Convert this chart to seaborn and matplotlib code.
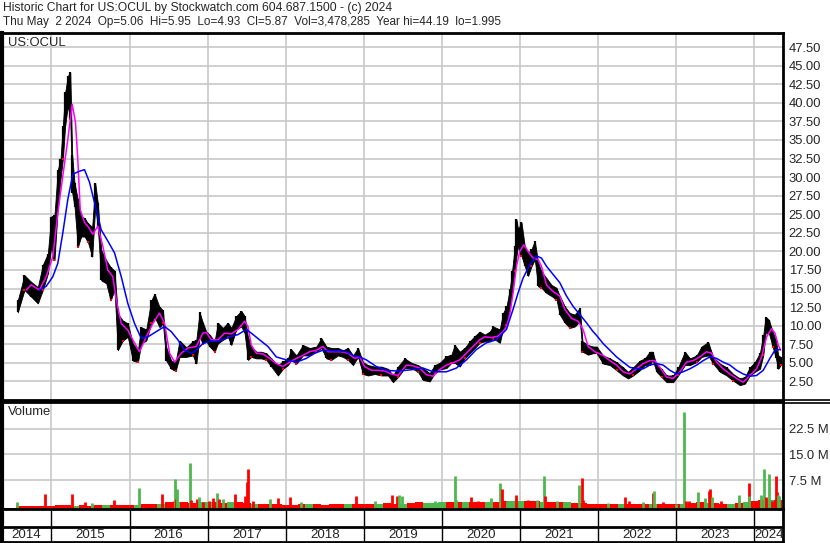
import numpy as np
import matplotlib
matplotlib.use("Agg")
import matplotlib.pyplot as plt
from matplotlib.lines import Line2D
import seaborn as sns

# === PRICE BAND (decimal year, upper / lower edge of the daily bars) ===
px_date = [2014.568, 2014.654, 2014.740, 2014.825, 2014.889, 2014.953, 2014.996, 2015.038,
           2015.081, 2015.115, 2015.145, 2015.175, 2015.209, 2015.240, 2015.265, 2015.295,
           2015.337, 2015.380, 2015.423, 2015.465, 2015.521, 2015.560, 2015.593, 2015.637,
           2015.701, 2015.756, 2015.807, 2015.849, 2015.913, 2015.977, 2016.041, 2016.106,
           2016.149, 2016.213, 2016.277, 2016.319, 2016.383, 2016.426, 2016.469, 2016.533,
           2016.588, 2016.640, 2016.726, 2016.810, 2016.854, 2016.896, 2016.938, 2016.982,
           2017.024, 2017.088, 2017.130, 2017.194, 2017.258, 2017.302, 2017.366, 2017.430,
           2017.472, 2017.515, 2017.558, 2017.622, 2017.686, 2017.750, 2017.814, 2017.899,
           2017.963, 2018.027, 2018.070, 2018.135, 2018.219, 2018.305, 2018.391, 2018.455,
           2018.519, 2018.583, 2018.668, 2018.732, 2018.796, 2018.860, 2018.924, 2018.988,
           2019.052, 2019.138, 2019.223, 2019.308, 2019.372, 2019.436, 2019.522, 2019.608,
           2019.692, 2019.756, 2019.842, 2019.906, 2019.970, 2020.056, 2020.120, 2020.162,
           2020.226, 2020.290, 2020.354, 2020.418, 2020.482, 2020.547, 2020.611, 2020.653,
           2020.739, 2020.781, 2020.825, 2020.867, 2020.896, 2020.931, 2020.953, 2020.973,
           2021.017, 2021.059, 2021.101, 2021.145, 2021.187, 2021.230, 2021.273, 2021.337,
           2021.401, 2021.465, 2021.507, 2021.572, 2021.636, 2021.700, 2021.764, 2021.798,
           2021.870, 2021.934, 2021.978, 2022.062, 2022.148, 2022.234, 2022.318, 2022.382,
           2022.446, 2022.532, 2022.596, 2022.660, 2022.695, 2022.746, 2022.810, 2022.874,
           2022.959, 2023.023, 2023.109, 2023.173, 2023.259, 2023.323, 2023.407, 2023.471,
           2023.557, 2023.643, 2023.728, 2023.813, 2023.877, 2023.941, 2024.005, 2024.069,
           2024.112, 2024.142, 2024.184, 2024.232, 2024.274, 2024.304, 2024.335]
px_high = [13.4, 16.8, 15.9, 15.2, 18.2, 19.7, 24.7, 24.9,
           31.0, 32.4, 36.9, 41.4, 43.6, 44.1, 33.0, 29.2,
           27.0, 24.7, 24.5, 23.8, 23.3, 29.2, 26.5, 20.2,
           18.8, 17.9, 17.4, 11.6, 10.7, 10.3, 7.6, 6.7,
           9.8, 9.5, 13.4, 14.3, 12.5, 12.1, 7.1, 5.3,
           5.1, 8.0, 7.1, 7.9, 8.1, 11.8, 10.4, 9.2,
           8.8, 7.9, 10.4, 9.7, 10.4, 9.7, 11.3, 12.0,
           11.3, 8.5, 7.2, 6.5, 6.5, 6.3, 5.6, 4.7,
           5.2, 5.6, 6.8, 6.0, 7.4, 7.0, 7.2, 8.3,
           7.2, 7.0, 7.0, 6.7, 7.0, 6.0, 7.0, 5.1,
           4.7, 4.5, 4.5, 4.2, 3.3, 4.5, 5.6, 5.0,
           4.7, 4.3, 3.6, 4.7, 5.0, 5.9, 6.1, 7.4,
           6.5, 7.0, 7.9, 8.6, 9.2, 8.8, 9.2, 9.9,
           9.5, 11.7, 12.6, 14.9, 17.3, 20.7, 24.3, 23.0,
           23.9, 20.7, 19.8, 20.3, 21.4, 18.5, 17.3, 16.4,
           15.5, 15.1, 14.0, 12.6, 11.7, 11.5, 12.4, 7.9,
           7.4, 7.2, 7.2, 6.0, 5.6, 5.1, 4.4, 3.8,
           4.4, 5.3, 5.6, 6.5, 6.5, 4.7, 4.2, 3.3,
           3.3, 4.4, 6.5, 5.6, 6.0, 7.2, 7.8, 5.8,
           4.9, 4.4, 3.5, 2.9, 3.1, 4.4, 5.1, 6.3,
           8.7, 11.2, 10.8, 9.2, 8.1, 6.0, 5.8]
px_low = [11.8, 14.8, 13.9, 13.0, 14.8, 17.0, 20.6, 18.8,
          26.0, 29.7, 32.4, 36.9, 39.6, 37.8, 27.9, 26.0,
          20.6, 22.0, 22.0, 21.3, 19.3, 26.0, 23.3, 16.1,
          15.7, 13.4, 14.8, 6.7, 8.0, 8.5, 5.3, 5.1,
          7.6, 8.0, 10.3, 11.2, 9.8, 10.3, 5.3, 4.2,
          3.9, 5.8, 5.8, 6.0, 4.9, 8.5, 7.6, 7.9,
          7.2, 6.5, 7.6, 8.1, 8.5, 7.4, 9.5, 9.9,
          9.0, 5.4, 5.8, 5.6, 5.6, 5.4, 4.5, 3.3,
          4.2, 4.7, 5.4, 4.9, 6.0, 6.0, 6.5, 7.0,
          5.6, 5.4, 6.0, 5.8, 5.4, 4.7, 5.8, 3.5,
          3.3, 3.5, 3.3, 3.3, 2.4, 3.1, 4.3, 4.3,
          3.8, 2.7, 2.5, 3.6, 4.1, 4.3, 5.0, 5.0,
          4.5, 5.6, 6.3, 7.0, 7.7, 7.9, 7.9, 8.3,
          7.7, 9.5, 10.1, 12.6, 14.4, 17.3, 19.4, 20.7,
          19.4, 18.0, 16.7, 18.0, 18.9, 15.3, 15.1, 14.4,
          14.0, 13.5, 11.5, 10.4, 9.7, 9.9, 10.6, 6.5,
          6.1, 6.3, 6.3, 4.9, 4.7, 4.0, 3.3, 2.9,
          3.3, 4.0, 4.7, 4.7, 5.4, 3.8, 3.1, 2.4,
          2.4, 3.3, 4.7, 4.7, 5.1, 5.8, 6.0, 4.9,
          3.8, 3.3, 2.6, 2.0, 2.2, 3.3, 3.8, 4.2,
          6.0, 9.0, 9.0, 7.2, 5.6, 4.2, 4.7]

# === MOVING AVERAGES ===
ma_fast_date = [2014.676, 2014.740, 2014.846, 2014.932, 2015.017, 2015.081, 2015.145, 2015.209,
                2015.265, 2015.307, 2015.337, 2015.368, 2015.423, 2015.478, 2015.529, 2015.593,
                2015.657, 2015.721, 2015.785, 2015.829, 2015.893, 2015.977, 2016.041, 2016.127,
                2016.213, 2016.298, 2016.383, 2016.448, 2016.512, 2016.576, 2016.661, 2016.746,
                2016.854, 2016.938, 2016.982, 2017.046, 2017.130, 2017.216, 2017.302, 2017.387,
                2017.472, 2017.515, 2017.558, 2017.622, 2017.707, 2017.792, 2017.878, 2017.963,
                2018.049, 2018.135, 2018.219, 2018.305, 2018.391, 2018.476, 2018.540, 2018.625,
                2018.711, 2018.796, 2018.881, 2018.945, 2019.009, 2019.095, 2019.180, 2019.266,
                2019.351, 2019.436, 2019.544, 2019.628, 2019.714, 2019.800, 2019.885, 2019.970,
                2020.056, 2020.141, 2020.226, 2020.312, 2020.397, 2020.482, 2020.547, 2020.633,
                2020.717, 2020.781, 2020.825, 2020.867, 2020.909, 2020.953, 2020.995, 2021.046,
                2021.101, 2021.165, 2021.230, 2021.273, 2021.337, 2021.422, 2021.507, 2021.572,
                2021.657, 2021.742, 2021.806, 2021.870, 2021.956, 2022.062, 2022.148, 2022.234,
                2022.318, 2022.404, 2022.490, 2022.575, 2022.660, 2022.724, 2022.788, 2022.874,
                2022.959, 2023.045, 2023.130, 2023.215, 2023.301, 2023.386, 2023.450, 2023.514,
                2023.599, 2023.685, 2023.771, 2023.856, 2023.941, 2024.027, 2024.091, 2024.155,
                2024.219, 2024.262, 2024.304, 2024.335]
ma_fast = [14.8, 15.5, 14.8, 16.6, 19.3, 25.2, 30.2, 35.1,
           39.8, 37.4, 32.4, 25.6, 23.9, 23.2, 22.3, 23.4,
           20.7, 17.5, 16.6, 13.5, 10.3, 9.4, 8.1, 6.5,
           8.5, 10.3, 11.7, 10.3, 6.3, 5.1, 6.3, 7.0,
           7.2, 9.0, 9.1, 8.1, 8.1, 9.0, 8.9, 9.5,
           10.6, 9.9, 7.4, 6.3, 6.2, 5.6, 4.9, 4.5,
           5.1, 5.6, 6.0, 6.5, 6.7, 7.2, 6.5, 6.5,
           6.5, 6.3, 5.6, 5.8, 4.5, 4.0, 4.0, 3.9,
           3.5, 3.3, 4.7, 4.6, 4.3, 3.4, 3.2, 4.1,
           4.7, 5.0, 5.4, 6.3, 7.2, 8.1, 8.5, 8.4,
           8.6, 9.2, 9.9, 11.5, 14.4, 18.0, 20.0, 20.9,
           20.0, 19.1, 18.9, 18.0, 15.5, 14.6, 14.0, 12.2,
           11.0, 10.6, 9.5, 7.2, 6.5, 6.0, 5.3, 4.7,
           3.8, 3.5, 4.2, 4.9, 5.3, 5.3, 4.4, 3.1,
           2.9, 3.8, 5.1, 5.3, 5.8, 6.5, 6.3, 5.1,
           4.2, 3.5, 2.9, 2.4, 3.3, 4.2, 5.8, 8.5,
           9.6, 9.0, 7.4, 6.7]

ma_slow_date = [2014.846, 2014.932, 2015.017, 2015.081, 2015.145, 2015.209, 2015.273, 2015.359,
                2015.423, 2015.487, 2015.573, 2015.637, 2015.721, 2015.807, 2015.893, 2015.977,
                2016.063, 2016.149, 2016.234, 2016.341, 2016.448, 2016.533, 2016.618, 2016.704,
                2016.790, 2016.854, 2016.938, 2017.024, 2017.110, 2017.194, 2017.280, 2017.387,
                2017.494, 2017.558, 2017.664, 2017.771, 2017.878, 2018.007, 2018.135, 2018.263,
                2018.369, 2018.476, 2018.583, 2018.689, 2018.775, 2018.860, 2018.945, 2019.031,
                2019.159, 2019.288, 2019.416, 2019.544, 2019.628, 2019.756, 2019.885, 2020.056,
                2020.184, 2020.312, 2020.440, 2020.568, 2020.696, 2020.825, 2020.909, 2020.973,
                2021.037, 2021.123, 2021.209, 2021.273, 2021.337, 2021.422, 2021.507, 2021.593,
                2021.678, 2021.764, 2021.849, 2021.934, 2021.978, 2022.062, 2022.148, 2022.234,
                2022.318, 2022.404, 2022.490, 2022.575, 2022.660, 2022.746, 2022.831, 2022.917,
                2023.002, 2023.087, 2023.173, 2023.259, 2023.343, 2023.429, 2023.514, 2023.599,
                2023.685, 2023.771, 2023.856, 2023.941, 2024.027, 2024.112, 2024.197, 2024.262,
                2024.326]
ma_slow = [14.8, 15.3, 16.6, 18.4, 22.5, 27.0, 30.4, 30.8,
           31.0, 29.3, 25.6, 22.9, 21.4, 19.8, 16.6, 13.0,
           10.3, 8.3, 8.5, 9.2, 9.9, 9.2, 8.1, 6.7,
           6.3, 6.7, 7.6, 7.9, 7.9, 8.1, 8.5, 8.8,
           9.5, 9.0, 8.1, 7.2, 5.8, 5.4, 5.1, 5.6,
           6.3, 6.7, 6.6, 6.6, 6.5, 6.0, 5.8, 5.4,
           4.5, 4.0, 3.9, 4.0, 4.1, 4.3, 3.8, 3.8,
           4.3, 5.4, 6.8, 7.7, 8.1, 9.5, 12.2, 14.4,
           16.4, 18.2, 19.4, 19.1, 18.0, 16.9, 15.8, 14.0,
           12.6, 11.5, 10.4, 9.2, 8.7, 7.6, 6.7, 5.8,
           5.1, 4.4, 4.2, 4.2, 4.7, 4.9, 4.7, 4.0,
           3.5, 3.8, 4.2, 4.7, 5.3, 5.8, 5.6, 5.1,
           4.7, 4.0, 3.5, 3.2, 3.3, 4.0, 5.6, 6.7,
           6.8]

# === VOLUME (millions) ===
# background level, one value per tenth of a year from 2014.6
vol_base = [0.1, 0.1, 0.1, 0.1,
            0.1, 0.2, 0.2, 0.1, 0.2, 0.1, 0.3, 0.2, 0.3, 0.2,
            0.3, 0.2, 0.5, 0.5, 0.7, 1.0, 1.0, 1.2, 0.9, 1.0,
            1.0, 1.1, 0.9, 1.1, 1.2, 0.9, 0.6, 0.6, 0.5, 0.5,
            0.4, 0.4, 0.5, 0.6, 0.5, 0.4, 0.5, 0.5, 0.5, 0.6,
            0.5, 0.6, 0.5, 0.8, 0.7, 0.7, 0.9, 1.0, 0.9, 0.9,
            1.0, 1.1, 1.2, 1.0, 1.1, 1.1, 1.0, 1.2, 1.3, 1.4,
            1.4, 1.3, 1.3, 1.2, 1.1, 1.1, 1.0, 0.9, 0.8, 0.7,
            0.6, 0.6, 0.6, 0.5, 0.6, 0.6, 0.7, 0.6, 0.5, 0.5,
            0.6, 0.7, 0.8, 1.0, 0.9, 0.8, 0.7, 0.7, 0.9, 1.1,
            1.4, 1.6, 1.6, 1.6]
vol_base_col = ("rrrr" "rrrgrrrgrr" "rgrrgrgrrg" "grrgrrgrrr"
                "rrrgrrrrgr" "rrgrrgrrgg" "grrgrrgrrg" "grrgrrgrrr"
                "rrrgrrrgrr" "rgrrgrrgrg" "rrgr")
vol_base_date = np.round(np.arange(2014.6, 2024.35, 0.1), 2)

spike_date = [2014.561, 2014.919, 2015.265, 2015.423, 2015.521, 2015.798, 2016.123, 2016.418,
              2016.469, 2016.563, 2016.585, 2016.597, 2016.605, 2016.777, 2016.781, 2016.867,
              2016.883, 2016.938, 2017.011, 2017.062, 2017.114, 2017.139, 2017.199, 2017.340,
              2017.344, 2017.421, 2017.472, 2017.502, 2017.520, 2017.579, 2017.801, 2017.895,
              2018.058, 2018.199, 2018.903, 2019.138, 2019.364, 2019.423, 2019.449, 2019.493,
              2019.915, 2020.162, 2020.184, 2020.367, 2020.466, 2020.633, 2020.748, 2020.765,
              2020.833, 2020.893, 2020.944, 2021.101, 2021.222, 2021.302, 2021.324, 2021.478,
              2021.751, 2021.790, 2021.806, 2022.126, 2022.340, 2022.391, 2022.575, 2022.703,
              2022.716, 2022.831, 2022.994, 2023.092, 2023.122, 2023.160, 2023.271, 2023.365,
              2023.417, 2023.429, 2023.451, 2023.570, 2023.805, 2023.925, 2023.933, 2024.018,
              2024.078, 2024.116, 2024.146, 2024.180, 2024.219, 2024.270, 2024.283, 2024.296,
              2024.316]
spike_vol = [1.2, 3.4, 3.4, 1.2, 0.8, 1.8, 5.3, 3.4,
             0.7, 1.5, 7.9, 2.0, 4.9, 12.5, 1.7, 2.0,
             2.6, 1.2, 1.5, 2.3, 3.8, 2.1, 2.0, 1.1,
             3.4, 1.2, 2.9, 7.0, 10.7, 1.4, 2.0, 2.3,
             2.6, 1.2, 2.9, 1.4, 3.3, 2.9, 3.1, 2.8,
             1.4, 8.7, 1.7, 2.7, 1.4, 2.2, 6.6, 4.9,
             1.4, 1.4, 3.1, 1.8, 1.8, 8.7, 2.9, 1.4,
             6.0, 8.1, 1.7, 0.8, 2.6, 1.4, 1.0, 3.8,
             4.3, 1.0, 0.5, 27.3, 1.5, 1.5, 4.0, 2.2,
             4.3, 4.9, 2.6, 1.4, 3.1, 6.6, 2.8, 1.4,
             3.1, 10.7, 2.5, 9.2, 1.4, 8.7, 4.0, 3.1,
             2.9]
spike_col = ("grrrgrgr" "rrgrggrr" "grrrgrgg" "rrrrrrgr"
             "rgrgrrgg" "gggrrggr" "ggrrggrg" "grrgrrgr"
             "grggrrgg" "rrgrgrgr" "ggrgrrrg" "g")

# axis ranges and tick values
x_range = (2014.36, 2024.365)
year_lines = list(range(2015, 2025))
year_labels = [str(y) for y in range(2014, 2025)]
price_ticks = [2.5 * k for k in range(1, 20)]
vol_ticks = [7.5, 15.0, 22.5]
vol_floor = -0.9

header1 = "Historic Chart for US:OCUL by Stockwatch.com 604.687.1500 - (c) 2024"
header2 = "Thu May  2 2024  Op=5.06  Hi=5.95  Lo=4.93  Cl=5.87  Vol=3,478,285  Year hi=44.19  lo=1.995"

# === STYLE ===
sns.set_style("white")
plt.rcParams['font.family'] = ['Liberation Sans', 'DejaVu Sans']
plt.rcParams['font.size'] = 9.4

GRID = '#c8c8c8'
GREEN = '#4db84d'
RED = '#ff0000'

W, H = 830, 543
fig = plt.figure(figsize=(W / 100, H / 100), dpi=100)


def box(x0, y0, x1, y1):
    return [x0 / W, 1 - y1 / H, (x1 - x0) / W, (y1 - y0) / H]


ax_p = fig.add_axes(box(1.5, 33, 783, 400))
ax_v = fig.add_axes(box(1.5, 402, 783, 509))
ax_y = fig.add_axes(box(1.5, 509, 783, 542))

for ax in (ax_p, ax_v, ax_y):
    ax.set_xlim(*x_range)
    for s in ax.spines.values():
        s.set_color('black')
        s.set_linewidth(2)
    ax.spines['left'].set_linewidth(3)
    ax.set_facecolor('white')

# === PRICE PANEL ===
ax_p.set_ylim(0, 49.4)
ax_p.set_xticks(year_lines)
ax_p.set_yticks(price_ticks)
ax_p.set_yticklabels([f"{t:.2f}" for t in price_ticks])
ax_p.yaxis.tick_right()
ax_p.tick_params(axis='y', length=0, pad=4, labelsize=9.4)
ax_p.tick_params(axis='x', length=0, labelbottom=False)
ax_p.grid(True, color=GRID, lw=1.2)
ax_p.set_axisbelow(True)

ax_p.fill_between(px_date, px_low, px_high, color='black', lw=0.6, zorder=3)
ax_p.vlines(px_date, px_low, px_high, color='black', lw=1.6, zorder=3)
ax_p.plot(px_date[1::3], px_low[1::3], ls='none', marker='s', ms=1.6, color=RED, mew=0, zorder=3.5)
sns.lineplot(x=ma_fast_date, y=ma_fast, ax=ax_p, color='#ff00ff', lw=1.1, zorder=4, sort=False)
sns.lineplot(x=ma_slow_date, y=ma_slow, ax=ax_p, color='#0000ff', lw=1.1, zorder=4, sort=False)
ax_p.set_xlabel('')
ax_p.set_ylabel('')
ax_p.text(0.008, 0.988, 'US:OCUL', transform=ax_p.transAxes, va='top', ha='left', fontsize=9.4)

# === VOLUME PANEL ===
ax_v.set_ylim(vol_floor, 30.3)
ax_v.set_xticks(year_lines)
ax_v.set_yticks(vol_ticks)
ax_v.set_yticklabels([f"{t:.1f} M" for t in vol_ticks])
ax_v.yaxis.tick_right()
ax_v.tick_params(axis='y', length=0, pad=4, labelsize=9.4)
ax_v.tick_params(axis='x', length=0, labelbottom=False)
ax_v.grid(True, color=GRID, lw=1.2)
ax_v.set_axisbelow(True)

base_colors = [GREEN if c == 'g' else RED for c in vol_base_col]
ax_v.bar(vol_base_date, np.array(vol_base) - vol_floor, bottom=vol_floor, width=0.1,
         color=base_colors, align='center', lw=0, zorder=3)
spike_colors = [GREEN if c == 'g' else RED for c in spike_col]
ax_v.vlines(spike_date, vol_floor, spike_vol, colors=spike_colors, lw=2.0, zorder=4)
ax_v.text(0.008, 0.965, 'Volume', transform=ax_v.transAxes, va='top', ha='left', fontsize=9.4)

# === YEAR ROW ===
ax_y.set_ylim(0, 33)
ax_y.set_xticks([])
ax_y.set_yticks([])
ax_y.axhline(15.5, color='black', lw=2)
for yr in year_lines:
    ax_y.axvline(yr, color='black', lw=1)
edges = [x_range[0]] + year_lines + [x_range[1]]
for lab, a, b in zip(year_labels, edges[:-1], edges[1:]):
    ax_y.text((a + b) / 2, 7.3, lab, ha='center', va='center', fontsize=9.6)

# header text and separators in the right column
fig.text(3 / W, 1 - 1.5 / H, header1, ha='left', va='top', fontsize=8.7)
fig.text(3 / W, 1 - 16.5 / H, header2, ha='left', va='top', fontsize=8.45)
for yy in (400, 402.5):
    fig.add_artist(Line2D([783 / W, 1], [1 - yy / H] * 2, color='black', lw=1.2))

fig.savefig('out.png', dpi=100)
